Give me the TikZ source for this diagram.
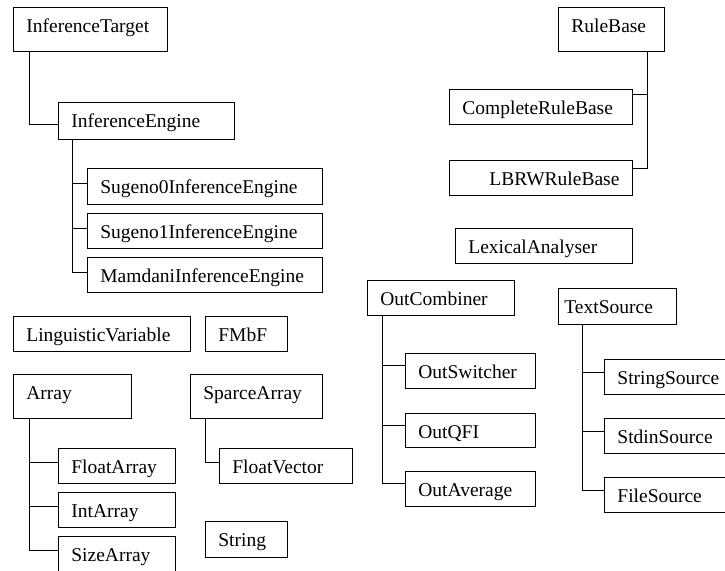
\documentclass[tikz,border=0pt]{standalone}
\usepackage{fontspec}
\setmainfont{Liberation Serif}
\usepackage{tikz}
\tikzset{
  cls/.style n args={2}{draw, line width=0.8pt, anchor=north west, inner xsep=13pt, inner ysep=0pt,
    text width=#1, text height=25pt, text depth=#2, align=left, font=\fontsize{19.5}{23}\selectfont},
  link/.style={line width=0.8pt}
}

\begin{document}
\begin{tikzpicture}[x=1pt,y=-1pt]
  \useasboundingbox (0,0) rectangle (725,570);
  \clip (0,0) rectangle (725,570);
  % inference
  \node[cls={128pt}{19pt}] (it) at (13,7) {InferenceTarget};
  \node[cls={150pt}{12pt}] (ie) at (58,102) {InferenceEngine};
  \node[cls={209pt}{11pt}] (s0) at (87,168) {Sugeno0InferenceEngine};
  \node[cls={209pt}{10pt}] (s1) at (87,213) {Sugeno1InferenceEngine};
  \node[cls={209pt}{10pt}] (mam) at (87,257) {MamdaniInferenceEngine};
  % rule bases
  \node[cls={80pt}{19pt}] (rb) at (558,7) {RuleBase};
  \node[cls={157pt}{10pt}] (crb) at (449,89) {CompleteRuleBase};
  \node[cls={157pt}{10pt}, align=right] (lbrw) at (449,160) {LBRWRuleBase};
  \node[cls={151pt}{10pt}] (lex) at (455,228) {LexicalAnalyser};
  % combiners
  \node[cls={121pt}{10pt}] (oc) at (367,280) {OutCombiner};
  \node[cls={104pt}{10pt}] (osw) at (405,353) {OutSwitcher};
  \node[cls={104pt}{9pt}] (oqfi) at (405,413) {OutQFI};
  \node[cls={104pt}{10pt}] (oav) at (405,471) {OutAverage};
  % sources
  \node[cls={106pt}{11pt}, inner xsep=6pt] (ts) at (558,288) {TextSource};
  \node[cls={104pt}{10pt}] (ss) at (604,359) {StringSource};
  \node[cls={104pt}{10pt}] (sds) at (604,418) {StdinSource};
  \node[cls={104pt}{10pt}] (fs) at (604,477) {FileSource};
  % arrays
  \node[cls={151pt}{10pt}] (lv) at (13,316) {LinguisticVariable};
  \node[cls={56pt}{10pt}] (fmbf) at (205,316) {FMbF};
  \node[cls={92pt}{19pt}] (arr) at (13,374) {Array};
  \node[cls={91pt}{10pt}] (fa) at (58,448) {FloatArray};
  \node[cls={91pt}{10pt}] (ia) at (58,492) {IntArray};
  \node[cls={91pt}{10pt}] (sza) at (58,536) {SizeArray};
  \node[cls={106pt}{19pt}] (spa) at (190,374) {SparceArray};
  \node[cls={107pt}{10pt}] (fv) at (219,448) {FloatVector};
  \node[cls={56pt}{11pt}] (str) at (205,521) {String};

  \draw[link] ([xshift=16pt]it.south west) |- ([yshift=-22pt]ie.north west);
  \foreach \c in {s0,s1,mam}{
    \draw[link] ([xshift=14pt]ie.south west) |- ([yshift=-15pt]\c.north west);
  }
  \draw[link] ([xshift=-17pt]rb.south east) |- ([yshift=-8pt]lbrw.north east);
  \draw[link] ([yshift=-5pt]crb.north east) -| ([xshift=-17pt]rb.south east);
  \foreach \c in {osw,oqfi,oav}{
    \draw[link] ([xshift=15pt]oc.south west) |- ([yshift=-12pt]\c.north west);
  }
  \foreach \c in {ss,sds,fs}{
    \draw[link] ([xshift=24pt]ts.south west) |- ([yshift=-13pt]\c.north west);
  }
  \foreach \c in {fa,ia,sza}{
    \draw[link] ([xshift=16pt]arr.south west) |- ([yshift=-14pt]\c.north west);
  }
  \draw[link] ([xshift=15pt]spa.south west) |- ([yshift=-14pt]fv.north west);
\end{tikzpicture}
\end{document}
